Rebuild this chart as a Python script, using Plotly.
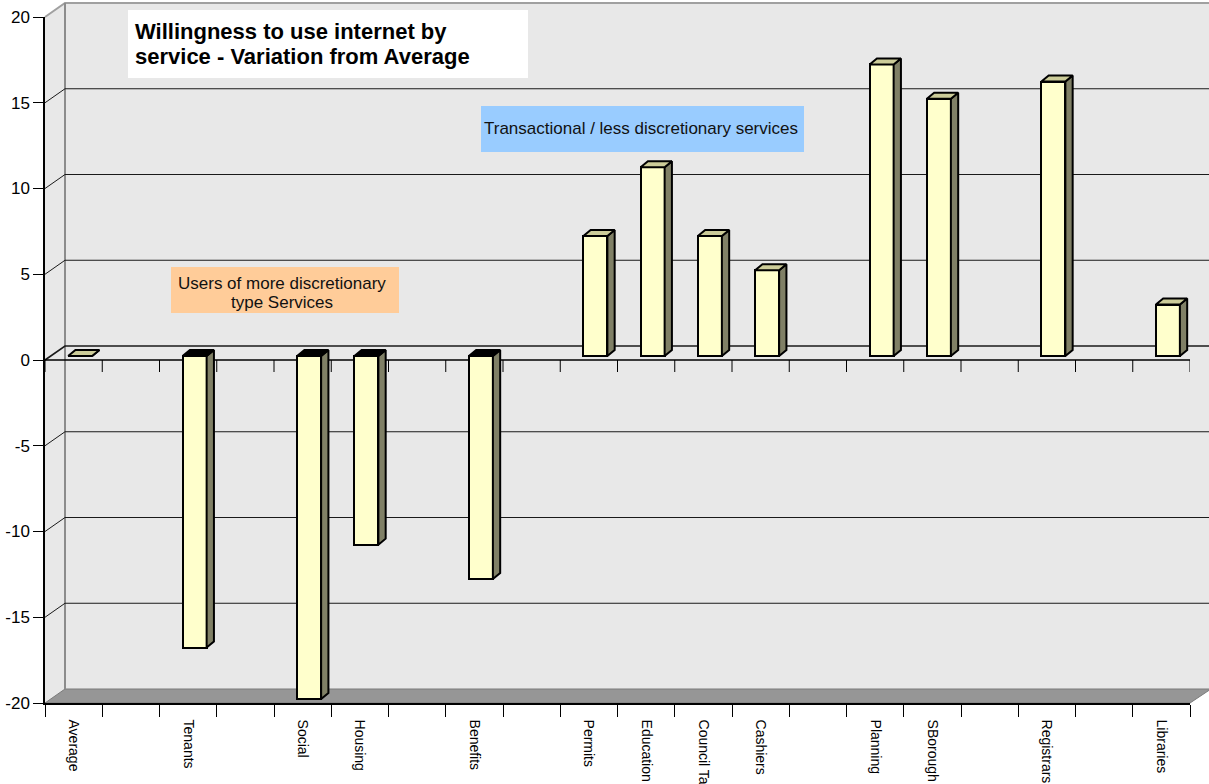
import plotly.graph_objects as go

# ---- data -------------------------------------------------------------
categories = ["Average", "", "Tenants", "", "Social", "Housing", "", "Benefits", "",
              "Permits", "Education", "Council Tax", "Cashiers", "", "Planning",
              "SBorough", "", "Registrars", "", "Libraries"]
variation = [0, None, -17, None, -20, -11, None, -13, None,
             7, 11, 7, 5, None, 17, 15, None, 16, None, 3]
y_ticks = [-20, -15, -10, -5, 0, 5, 10, 15, 20]
y_tick_text = ["-20", "-15", "-10", "-5", "0", "5", "10", "15", "20"]

title_lines = ["Willingness to use internet by", "service - Variation from Average"]
blue_lines = ["Transactional / less discretionary services"]
peach_lines = ["Users of more discretionary", "type Services"]

# ---- geometry of the pseudo-3D frame (pixels) -------------------------
W, H = 1209, 784
XL, XR, YT, YB = 45, 1190, 17, 703          # front plane of the plot
DX, DY = 20, 14                              # depth offset of the back wall
UX = (XR - XL) / 20.0                        # px per category
UY = (YB - YT) / 40.0                        # px per unit of value

FX, FY = 6.5 / UX, 4.0 / UY                  # bar front face inset
BW = 24.0 / UX                               # bar width
SX, SY = 7.3 / UX, 6.0 / UY                  # bar depth

FRONT = "#FFFFCC"
SIDE = "#808066"
TOP_POS = "#CCCC99"
TOP_NEG = "#000000"
WALL = "#E8E8E8"
FLOOR = "#969696"
FONT = "Liberation Sans, Arial, sans-serif"


def px(x):
    return (x - XL) / (XR - XL)


def py(y):
    return (YB - y) / (YB - YT)


def val_py(v):
    # paper y of a value on the front plane
    return (v + 20) / 40.0


shapes = []

# back wall, left wall, floor
shapes.append(dict(type="rect", xref="paper", yref="paper", layer="below",
                   x0=px(XL + DX), x1=px(W + 2), y0=py(YB - DY), y1=py(YT - DY),
                   fillcolor=WALL, line=dict(width=0)))
shapes.append(dict(type="path", xref="paper", yref="paper", layer="below",
                   path=f"M{px(XL)},{py(YT)} L{px(XL+DX)},{py(YT-DY)} "
                        f"L{px(XL+DX)},{py(YB-DY)} L{px(XL)},{py(YB)} Z",
                   fillcolor=WALL, line=dict(width=0)))
shapes.append(dict(type="path", xref="paper", yref="paper", layer="below",
                   path=f"M{px(XL)},{py(YB)} L{px(XL+DX)},{py(YB-DY)} "
                        f"L{px(W+2)},{py(YB-DY)} L{px(XR)},{py(YB)} Z",
                   fillcolor=FLOOR, line=dict(color="#7a7a7a", width=1)))

# wall edges
shapes.append(dict(type="path", xref="paper", yref="paper", layer="below",
                   path=f"M{px(XL)},{py(YT)} L{px(XL+DX)},{py(YT-DY)} L{px(W+2)},{py(YT-DY)}",
                   line=dict(color="#A0A0A0", width=2)))
shapes.append(dict(type="line", xref="paper", yref="paper", layer="below",
                   x0=px(XL + DX), x1=px(XL + DX), y0=py(YT - DY), y1=py(YB - DY),
                   line=dict(color="#8C8C8C", width=2)))

# gridlines on left + back wall
for v in y_ticks[1:-1]:
    yf = val_py(v)
    yb = yf + DY / (YB - YT)
    shapes.append(dict(type="path", xref="paper", yref="paper", layer="below",
                       path=f"M{px(XL)},{yf} L{px(XL+DX)},{yb} L{px(W+2)},{yb}",
                       line=dict(color="#1a1a1a", width=1.6 if v == 0 else 1)))

# category axis drawn at zero on the front plane, with boundary ticks
shapes.append(dict(type="line", xref="x", yref="y", layer="below",
                   x0=-0.5, x1=19.5, y0=0, y1=0, line=dict(color="black", width=1.5)))
for k in range(21):
    shapes.append(dict(type="line", xref="x", yref="y", layer="below",
                       x0=k - 0.5, x1=k - 0.5, y0=0, y1=-12.0 / UY,
                       line=dict(color="black", width=1)))

# text boxes (backgrounds)
for (x0, y0, x1, y1, col) in [(128, 10, 528, 78, "white"),
                              (481, 106, 804, 152, "#99CCFF"),
                              (171, 267, 399, 313, "#FFCC99")]:
    shapes.append(dict(type="rect", xref="paper", yref="paper", layer="above",
                       x0=px(x0), x1=px(x1), y0=py(y1), y1=py(y0),
                       fillcolor=col, line=dict(width=0)))

# ---- bars ---------------------------------------------------------------
idx = [i for i, v in enumerate(variation) if v is not None]
vals = [variation[i] for i in idx]

fig = go.Figure()
fig.add_trace(go.Bar(
    x=[i + FX for i in idx], y=vals, base=FY, width=BW,
    marker=dict(color=FRONT, line=dict(color="black", width=2)),
    hoverinfo="skip", showlegend=False))

side_x, side_y = [], []
tp_x, tp_y, tn_x, tn_y = [], [], [], []
for i, v in zip(idx, vals):
    x0 = i + FX - BW / 2
    x1 = i + FX + BW / 2
    lo = FY + min(v, 0)
    hi = FY + max(v, 0)
    side_x += [x1, x1 + SX, x1 + SX, x1, x1, None]
    side_y += [lo, lo + SY, hi + SY, hi, lo, None]
    tx = [x0, x0 + SX, x1 + SX, x1, x0, None]
    ty = [hi, hi + SY, hi + SY, hi, hi, None]
    if v < 0:
        tn_x += tx
        tn_y += ty
    else:
        tp_x += tx
        tp_y += ty

for xs, ys, col in [(side_x, side_y, SIDE), (tp_x, tp_y, TOP_POS), (tn_x, tn_y, TOP_NEG)]:
    fig.add_trace(go.Scatter(
        x=xs, y=ys, mode="lines", fill="toself", fillcolor=col,
        line=dict(color="black", width=2), connectgaps=False,
        hoverinfo="skip", showlegend=False))

# ---- text lines -----------------------------------------------------------
annotations = []
for line, yc in zip(title_lines, [31, 57]):
    annotations.append(dict(xref="paper", yref="paper", x=px(133), y=py(yc),
                            xanchor="left", yanchor="middle", showarrow=False,
                            text=f"<b>{line}</b>",
                            font=dict(family=FONT, size=22, color="black")))
for line, yc in zip(blue_lines, [129]):
    annotations.append(dict(xref="paper", yref="paper", x=px(641), y=py(yc),
                            xanchor="center", yanchor="middle", showarrow=False,
                            text=line, font=dict(family=FONT, size=17, color="#111111")))
for line, yc in zip(peach_lines, [283, 302]):
    annotations.append(dict(xref="paper", yref="paper", x=px(282), y=py(yc),
                            xanchor="center", yanchor="middle", showarrow=False,
                            text=line, font=dict(family=FONT, size=17, color="#111111")))

fig.update_layout(
    width=W, height=H,
    margin=dict(l=XL, r=W - XR, t=YT, b=H - YB, autoexpand=False),
    paper_bgcolor="white", plot_bgcolor="rgba(0,0,0,0)",
    shapes=shapes, annotations=annotations, bargap=0,
    font=dict(family=FONT, color="black"),
    xaxis=dict(range=[-0.5, 19.5], tickmode="array", tickvals=list(range(20)),
               ticktext=categories, tickangle=90, ticks="outside", ticklen=12,
               tickcolor="rgba(0,0,0,0)", showgrid=False, zeroline=False,
               showline=True, linecolor="black", linewidth=1.5, automargin=False,
               tickfont=dict(family=FONT, size=14, color="black"),
               minor=dict(tickmode="array", tickvals=[k - 0.5 for k in range(21)],
                          ticks="outside", ticklen=12, tickcolor="black", tickwidth=1,
                          showgrid=False),
               fixedrange=True),
    yaxis=dict(range=[-20, 20], tickmode="array", tickvals=y_ticks, ticktext=y_tick_text,
               ticks="outside", ticklen=10, tickcolor="black", showgrid=False,
               zeroline=False, showline=True, linecolor="black", linewidth=1.5,
               automargin=False, tickfont=dict(family=FONT, size=17, color="black"),
               fixedrange=True),
)

fig.write_html("out.html")
